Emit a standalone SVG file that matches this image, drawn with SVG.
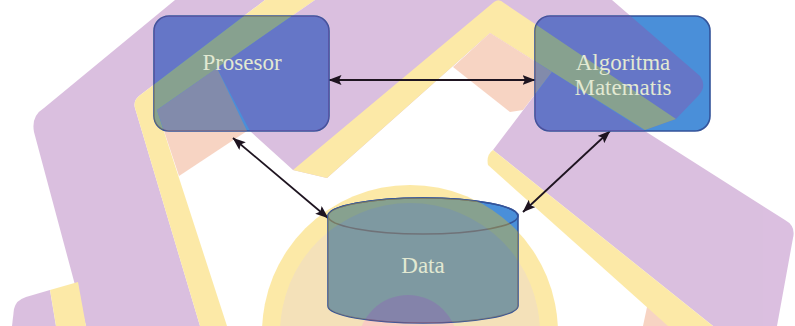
<svg xmlns="http://www.w3.org/2000/svg" width="795" height="326" viewBox="0 0 795 326">
  <style>
    .wm-p { fill: #9849a5; }
    .wm-y { fill: #f9c306; }
    .wm-o { fill: #eb8556; }
    .wm-d { fill: #e0ab3a; }
    .wm-m { fill: #f06e55; }
    .tint { opacity: 0.35; }
    .node { fill: #4b8fd9; stroke: #34549a; stroke-width: 1.6; }
    .rim { fill: none; stroke: #34549a; stroke-width: 1.6; }
    .label { font-family: "Liberation Serif", "Times New Roman", serif; font-size: 23px; fill: #e2e9d2; text-anchor: middle; }
    .link { stroke: #1e1420; stroke-width: 1.8; fill: none; marker-start: url(#head); marker-end: url(#head); }
  </style>
  <defs>
    <marker id="head" viewBox="0 0 13 10" refX="12.5" refY="5" markerWidth="13" markerHeight="10" markerUnits="userSpaceOnUse" orient="auto-start-reverse">
      <path d="M0,0 L13,5 L0,10 L2.5,5 Z" fill="#1e1420"/>
    </marker>

    <!-- background emblem, painted flat and shown at reduced opacity -->
    <g id="wm">
      <!-- round seal behind the data store -->
      <circle class="wm-y" cx="410" cy="333" r="148"/>
      <circle class="wm-d" cx="410" cy="333" r="130"/>
      <circle class="wm-m" cx="408" cy="345" r="50"/>
      <!-- left frame arm -->
      <path class="wm-p" d="M44,108 L175,0 L265,0 L139,96 Q133,101 135,108 L200,326 L86,326 L34,132 Q31,116 44,108 Z"/>
      <path class="wm-y" d="M265,0 L315,0 L157,110 L227,326 L200,326 L135,108 Q133,101 139,96 Z"/>
      <path class="wm-o" d="M157,110 L217,68 L247,131 L179,176 Z"/>
      <!-- upper frame with its pointed ribbon -->
      <path class="wm-p" d="M315,0 L612,0 L700,76 Q707,86 699,95 L676,119 L645,130 L490,33 L327,178 L293,170 L250,131 L217,68 Z"/>
      <path class="wm-y" d="M293,170 L494,2 Q499,-2 504,3 L676,119 L645,130 L490,33 L327,178 Z"/>
      <path class="wm-o" d="M490,33 L552,72 L523,110 L510,112 L453,67 Z"/>
      <!-- lower right band -->
      <path class="wm-o" d="M643,326 L650,293 L672,300 L668,326 Z"/>
      <path class="wm-p" d="M493,150 L552,72 L785,220 Q796,226 793,238 L777,326 L713,326 Z"/>
      <path class="wm-y" d="M493,150 L713,326 L668,326 L488,165 Q486,155 493,150 Z"/>
      <!-- bottom-left corner piece -->
      <path class="wm-p" d="M12,326 L14,309 Q16,300 26,297 L50,290 L56,326 Z"/>
      <path class="wm-y" d="M50,290 L78,282 L86,326 L56,326 Z"/>
    </g>

    <clipPath id="clip-prosesor"><rect x="154" y="16" width="175" height="115" rx="15"/></clipPath>
    <clipPath id="clip-algoritma"><rect x="535" y="16" width="175" height="115" rx="15"/></clipPath>
    <clipPath id="clip-data"><path d="M328,216 A95,18 0 0 1 518,216 L518,306 A95,17 0 0 1 328,306 Z"/></clipPath>
  </defs>

  <rect width="795" height="326" fill="#ffffff"/>
  <use href="#wm" class="tint"/>

  <g id="connectors">
    <line class="link" x1="329" y1="80" x2="535" y2="80"/>
    <line class="link" x1="233" y1="138" x2="328" y2="218"/>
    <line class="link" x1="610" y1="131" x2="523" y2="212"/>
  </g>

  <g id="node-prosesor">
    <rect class="node" x="154" y="16" width="175" height="115" rx="15"/>
    <use href="#wm" class="tint" clip-path="url(#clip-prosesor)"/>
    <text class="label" x="242" y="70">Prosesor</text>
  </g>

  <g id="node-algoritma">
    <rect class="node" x="535" y="16" width="175" height="115" rx="15"/>
    <use href="#wm" class="tint" clip-path="url(#clip-algoritma)"/>
    <text class="label" x="623" y="70">Algoritma</text>
    <text class="label" x="623" y="95">Matematis</text>
  </g>

  <g id="node-data">
    <path class="node" d="M328,216 A95,18 0 0 1 518,216 L518,306 A95,17 0 0 1 328,306 Z"/>
    <ellipse class="rim" cx="423" cy="216" rx="95" ry="18"/>
    <use href="#wm" class="tint" clip-path="url(#clip-data)"/>
    <text class="label" x="423" y="273">Data</text>
  </g>
</svg>
